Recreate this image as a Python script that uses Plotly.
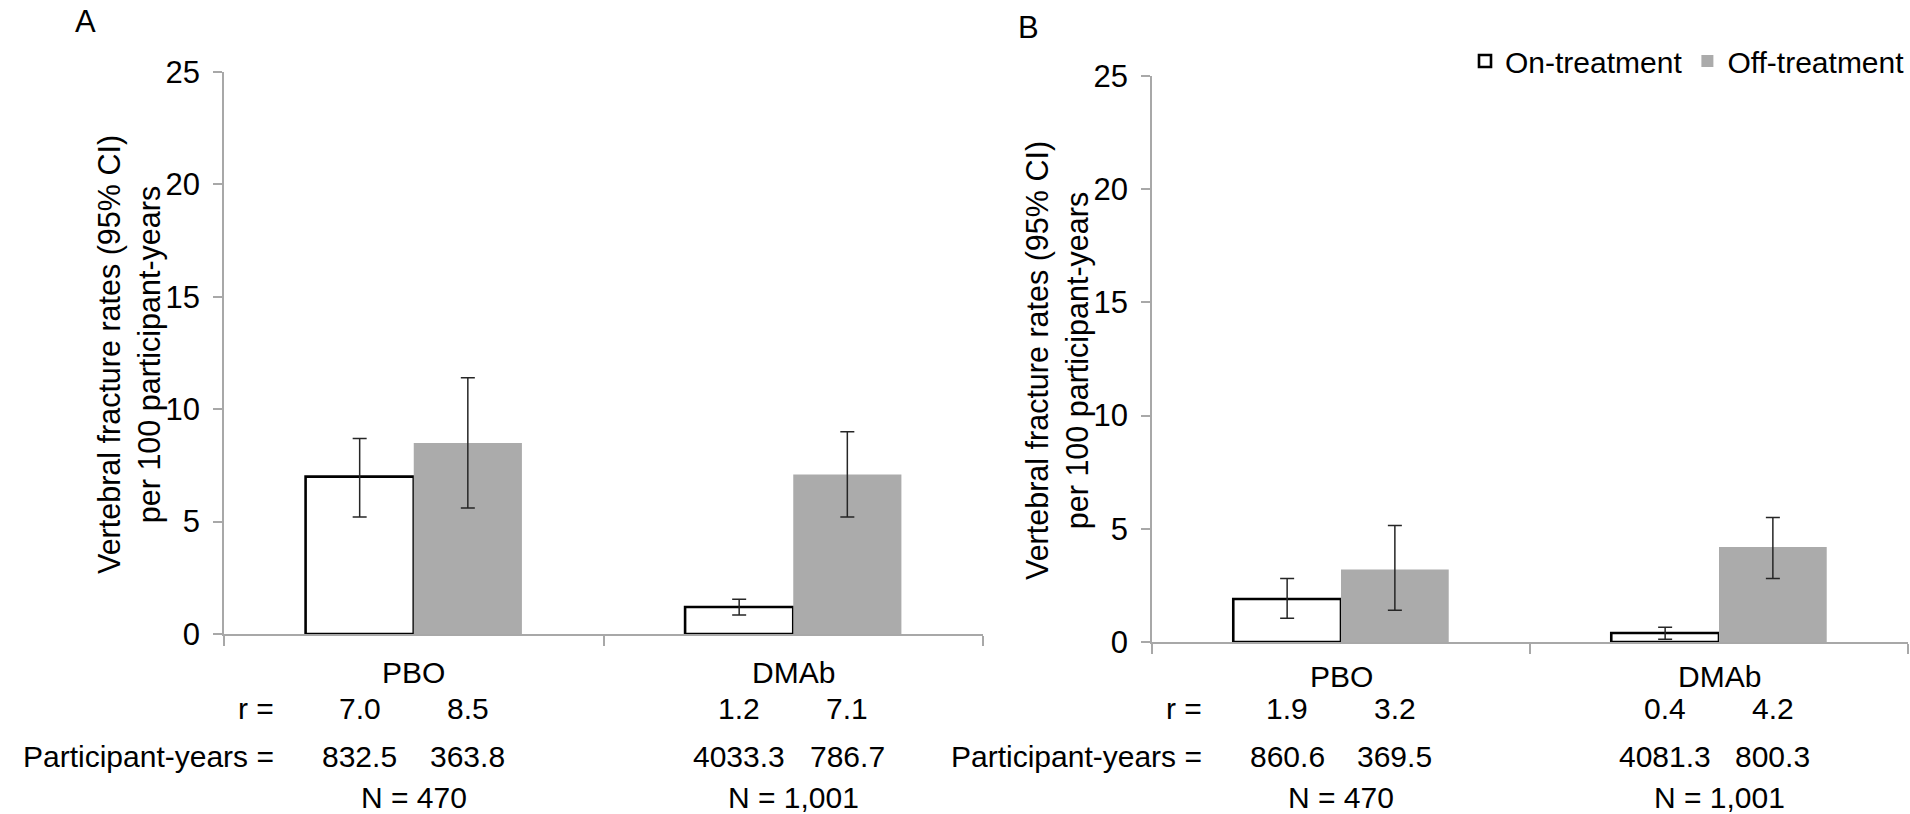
import plotly.graph_objects as go

# ---------------- data ----------------
categories = ["PBO", "DMAb"]
series_names = ["On-treatment", "Off-treatment"]
panel_letters = ["A", "B"]

# Panel A
a_on_rate = [7.0, 1.2]
a_on_upper = [8.7, 1.55]
a_on_lower = [5.2, 0.85]
a_off_rate = [8.5, 7.1]
a_off_upper = [11.4, 9.0]
a_off_lower = [5.6, 5.2]
a_on_py = [832.5, 4033.3]
a_off_py = [363.8, 786.7]

# Panel B
b_on_rate = [1.9, 0.4]
b_on_upper = [2.8, 0.65]
b_on_lower = [1.05, 0.12]
b_off_rate = [3.2, 4.2]
b_off_upper = [5.15, 5.5]
b_off_lower = [1.4, 2.8]
b_on_py = [860.6, 4081.3]
b_off_py = [369.5, 800.3]

n_per_group = [470, 1001]
y_ticks = [0, 5, 10, 15, 20, 25]
y_title = "Vertebral fracture rates (95% CI)<br>per 100 participant-years"

# ---------------- style ----------------
FONT = "Liberation Sans, Arial, Helvetica, sans-serif"
GRAY_BAR = "#ABABAB"
AXIS_GRAY = "#A8A8A8"
ERR_COLOR = "#262626"
BARGAP = 0.43
bar_w = (1 - BARGAP) / 2

W, H = 1910, 814
fig = go.Figure()

panels = [
    dict(xa="x", ya="y", on=a_on_rate, onu=a_on_upper, onl=a_on_lower,
         off=a_off_rate, offu=a_off_upper, offl=a_off_lower,
         onpy=a_on_py, offpy=a_off_py, legend=True),
    dict(xa="x2", ya="y2", on=b_on_rate, onu=b_on_upper, onl=b_on_lower,
         off=b_off_rate, offu=b_off_upper, offl=b_off_lower,
         onpy=b_on_py, offpy=b_off_py, legend=False),
]

for p in panels:
    fig.add_trace(go.Bar(
        x=categories, y=p["on"], name=series_names[0], xaxis=p["xa"], yaxis=p["ya"],
        marker=dict(color="white", line=dict(color="black", width=2.6)),
        error_y=dict(type="data", symmetric=False,
                     array=[u - v for u, v in zip(p["onu"], p["on"])],
                     arrayminus=[v - l for v, l in zip(p["on"], p["onl"])],
                     color=ERR_COLOR, thickness=1.5, width=7),
        showlegend=p["legend"], legendgroup="on", offsetgroup="on",
    ))
    fig.add_trace(go.Bar(
        x=categories, y=p["off"], name=series_names[1], xaxis=p["xa"], yaxis=p["ya"],
        marker=dict(color=GRAY_BAR, line=dict(width=0)),
        error_y=dict(type="data", symmetric=False,
                     array=[u - v for u, v in zip(p["offu"], p["off"])],
                     arrayminus=[v - l for v, l in zip(p["off"], p["offl"])],
                     color=ERR_COLOR, thickness=1.5, width=7),
        showlegend=p["legend"], legendgroup="off", offsetgroup="off",
    ))

xdom = [[224 / W, 983 / W], [1152 / W, 1908 / W]]
ydom = [[1 - 634 / H, 1 - 72 / H], [1 - 642 / H, 1 - 76 / H]]

common_x = dict(type="category", range=[-0.5, 1.5], showline=True, linecolor=AXIS_GRAY,
                linewidth=2, ticks="outside", tickson="boundaries", ticklen=10,
                tickcolor=AXIS_GRAY, tickwidth=1.5, showticklabels=False,
                showgrid=False, zeroline=False, automargin=False, fixedrange=True)
common_y = dict(range=[0, 25], tickvals=y_ticks, showline=True, linecolor=AXIS_GRAY,
                linewidth=1.5, ticks="outside", ticklen=9, tickcolor=AXIS_GRAY,
                tickwidth=1.5, showgrid=False, zeroline=False, automargin=False,
                tickfont=dict(family=FONT, size=31, color="black"),
                ticklabelstandoff=7, fixedrange=True)

fig.update_layout(
    width=W, height=H,
    margin=dict(l=0, r=0, t=0, b=0),
    paper_bgcolor="white", plot_bgcolor="white",
    barmode="group", bargap=BARGAP, bargroupgap=0,
    font=dict(family=FONT, size=30, color="black"),
    xaxis=dict(common_x, domain=xdom[0], anchor="y"),
    yaxis=dict(common_y, domain=ydom[0], anchor="x"),
    xaxis2=dict(common_x, domain=xdom[1], anchor="y2"),
    yaxis2=dict(common_y, domain=ydom[1], anchor="x2"),
    legend=dict(orientation="h", x=1.0, xanchor="right", y=1 - 61 / H, yanchor="middle",
                font=dict(family=FONT, size=30, color="black"), bgcolor="rgba(0,0,0,0)",
                traceorder="normal"),
)

ann = []
def text(x, y, s, xref="paper", xanchor="center", size=30, **kw):
    ann.append(dict(x=x, y=y, xref=xref, yref="paper", text=s, showarrow=False,
                    xanchor=xanchor, yanchor="middle",
                    font=dict(family=FONT, size=size, color="black"), **kw))

# panel letters
text(85 / W, 1 - 22 / H, panel_letters[0], size=31)
text(1028 / W, 1 - 27 / H, panel_letters[1], size=31)

# y-axis titles
text(129 / W, 1 - 355 / H, y_title, textangle=-90, size=30.5)
text(1057 / W, 1 - 361 / H, y_title, textangle=-90, size=30.5)

row_y = dict(cat=[1 - 672 / H, 1 - 676 / H], r=1 - 708 / H, py=1 - 756 / H, n=1 - 797 / H)
label_right = [276 / W, 1204 / W]

for k, p in enumerate(panels):
    xr = p["xa"]
    text(label_right[k], row_y["r"], "r =", xanchor="right")
    text(label_right[k], row_y["py"], "Participant-years =", xanchor="right")
    for i, cat in enumerate(categories):
        text(i, row_y["cat"][k], cat, xref=xr)
        text(i - bar_w / 2, row_y["r"], f"{p['on'][i]:.1f}", xref=xr)
        text(i + bar_w / 2, row_y["r"], f"{p['off'][i]:.1f}", xref=xr)
        text(i - bar_w / 2, row_y["py"], f"{p['onpy'][i]:.1f}", xref=xr)
        text(i + bar_w / 2, row_y["py"], f"{p['offpy'][i]:.1f}", xref=xr)
        text(i, row_y["n"], f"N = {n_per_group[i]:,}", xref=xr)

fig.update_layout(annotations=ann)
fig.write_html("out.html",
               config={"displayModeBar": False},
               post_script="document.body.style.margin='0';document.body.style.padding='0';"
                           "document.body.style.overflow='hidden';")
